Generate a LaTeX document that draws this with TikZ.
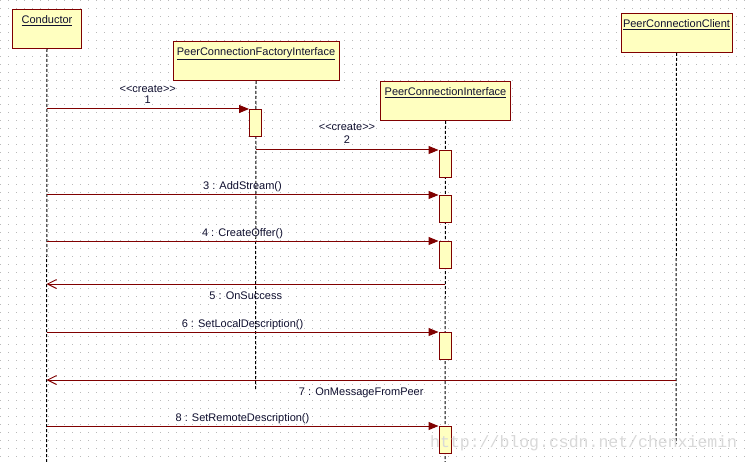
\documentclass[tikz,border=0pt]{standalone}
\usepackage{fontspec}
\setmainfont{Liberation Sans}
\newfontfamily\wmfont{Liberation Mono}
\usetikzlibrary{arrows.meta}
\definecolor{umlred}{RGB}{128,0,0}
\definecolor{umlfill}{RGB}{255,255,192}
\definecolor{umltext}{RGB}{16,16,48}
\definecolor{griddot}{RGB}{185,185,185}
\tikzset{
  obj/.style={draw=umlred, fill=umlfill, line width=1pt, anchor=north west, inner sep=0pt},
  objname/.style={anchor=base, text=umltext, inner sep=0pt, font=\fontsize{11}{13}\selectfont},
  act/.style={draw=umlred, fill=umlfill, line width=1pt, minimum width=12pt, minimum height=27pt, inner sep=0pt, anchor=north},
  life/.style={line width=1pt, dash pattern=on 3pt off 2pt},
  call/.style={draw=umlred, line width=1pt, -{Triangle[length=10pt,width=8pt]}},
  reply/.style={draw=umlred, line width=1pt, -{Straight Barb[length=9pt,width=9pt]}},
  msg/.style={text=umltext, inner sep=0pt, font=\fontsize{11}{13}\selectfont}
}
\newcommand{\crt}{<\kern0pt<create>\kern0pt>}
\begin{document}
\begin{tikzpicture}[x=1pt, y=-1pt]
  \useasboundingbox[fill=white] (0,0) rectangle (751,462);
  % dotted background
  \foreach \gx in {0,8,...,744}
    \foreach \gy in {0,8,...,456}
      \fill[griddot] (\gx,\gy) rectangle ++(1,1);
  % objects
  \node[obj, minimum width=69pt, minimum height=39pt] (cond) at (12,9) {};
  \node[obj, minimum width=166pt, minimum height=39pt] (fact) at (172.5,41) {};
  \node[obj, minimum width=130pt, minimum height=39pt] (pci) at (380,81) {};
  \node[obj, minimum width=111pt, minimum height=39pt] (pcc) at (620.5,13) {};
  \node[objname] at ([yshift=-15pt]cond.north) {\underline{Conductor}};
  \node[objname] at ([yshift=-15pt]fact.north) {\underline{PeerConnectionFactoryInterface}};
  \node[objname] at ([yshift=-15pt]pci.north) {\underline{PeerConnectionInterface}};
  \node[objname] at ([yshift=-15pt]pcc.north) {\underline{PeerConnectionClient}};
  % lifelines
  \coordinate (condEnd) at (46.5,462);
  \coordinate (factEnd) at (255.5,390);
  \coordinate (pciEnd) at (445,462);
  \coordinate (pccEnd) at (676,444);
  \draw[life] (cond.south) -- (condEnd);
  \draw[life] (fact.south) -- (factEnd);
  \draw[life] (pci.south) -- (pciEnd);
  \draw[life] (pcc.south) -- (pccEnd);
  % activations
  \node[act] (a1) at (255.5,109) {};
  \node[act] (a2) at (445,150) {};
  \node[act] (a3) at (445,195) {};
  \node[act] (a4) at (445,241) {};
  \node[act] (a6) at (445,332) {};
  \node[act] (a8) at (445,426) {};
  % message ends on lifelines
  \coordinate (c1) at (46.5,109);
  \coordinate (f2) at (255.5,150);
  \coordinate (c3) at (46.5,195);
  \coordinate (c4) at (46.5,241);
  \coordinate (p5) at (445,284);
  \coordinate (c5) at (46.5,284);
  \coordinate (c6) at (46.5,332);
  \coordinate (k7) at (676,380);
  \coordinate (c7) at (46.5,380);
  \coordinate (c8) at (46.5,426);
  % messages
  \draw[call] (c1) -- (a1.north west) node[msg, midway, anchor=base, yshift=5pt] (l1) {1};
  \node[msg, anchor=base] at ([yshift=11pt]l1.base) {\crt};
  \draw[call] (f2) -- (a2.north west) node[msg, midway, anchor=base, yshift=6pt] (l2) {2};
  \node[msg, anchor=base] at ([yshift=13pt]l2.base) {\crt};
  \draw[call] (c3) -- (a3.north west) node[msg, midway, anchor=base, yshift=5pt] {3 : AddStream()};
  \draw[call] (c4) -- (a4.north west) node[msg, midway, anchor=base, yshift=5pt] {4 : CreateOffer()};
  \draw[reply] (p5) -- (c5) node[msg, midway, anchor=base, yshift=-15pt] {5 : OnSuccess};
  \draw[call] (c6) -- (a6.north west) node[msg, midway, anchor=base, yshift=5pt] {6 : SetLocalDescription()};
  \draw[reply] (k7) -- (c7) node[msg, midway, anchor=base, yshift=-15pt] {7 : OnMessageFromPeer};
  \draw[call] (c8) -- (a8.north west) node[msg, midway, anchor=base, yshift=5pt] {8 : SetRemoteDescription()};
  % watermark
  \node[anchor=base west, inner sep=0pt, text=gray!30, font=\wmfont\fontsize{16.5}{18}\selectfont] (wm) at (430,447) {http://blog.csdn.net/chenxiemin};
\end{tikzpicture}
\end{document}
